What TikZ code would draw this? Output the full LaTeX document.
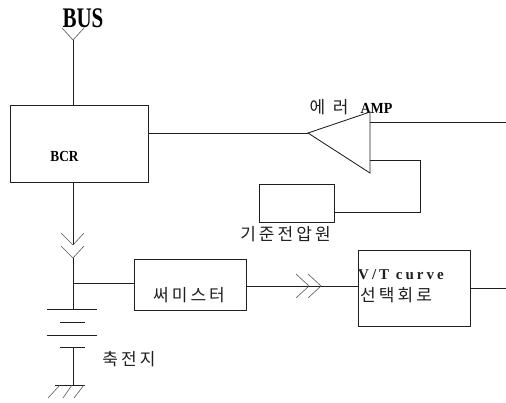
\documentclass[tikz,border=0pt]{standalone}
\usepackage{fontspec}
\setmainfont{Liberation Serif}
\newfontfamily\krfont[LetterSpace=18]{Noto Sans CJK KR}
\newfontfamily\krwide[LetterSpace=45]{Noto Sans CJK KR}
\newfontfamily\vtfont[LetterSpace=20]{Liberation Serif}
\definecolor{ink}{gray}{0.12}
\tikzset{
  wire/.style={draw=ink,line width=0.85pt,line join=miter},
  thin wire/.style={draw=ink!75,line width=0.6pt},
  blockbox/.style={draw=ink,line width=0.85pt,inner sep=0pt,fill=white},
  krlabel/.style={inner sep=0pt,text=ink,font=\krfont\fontsize{17}{17}\selectfont},
  latinlabel/.style={inner sep=0pt,text=black,font=\bfseries\fontsize{14}{14}\selectfont}
}
\begin{document}
\begin{tikzpicture}[x=1pt,y=-1pt]
\useasboundingbox (0,0) rectangle (506,402);
% blocks
\node[blockbox,minimum width=138pt,minimum height=77pt] (bcr) at (79,143.5) {};
\node[blockbox,minimum width=75pt,minimum height=38pt] (ref) at (296.5,203) {};
\node[blockbox,minimum width=112pt,minimum height=51pt] (therm) at (190,284.5) {};
\node[blockbox,minimum width=112pt,minimum height=76pt] (vt) at (414,288) {};
% labels
\node[inner sep=0pt,text=black,font=\fontsize{21}{21}\selectfont] (bus) at (83,18) {\scalebox{1}[1.35]{\textbf{BUS}}};
\node[latinlabel] (bcrl) at (64.5,156) {\scalebox{0.95}[1.1]{BCR}};
\node[latinlabel] (ampl) at (376.5,108.5) {\scalebox{1}[1.1]{AMP}};
\node[inner sep=0pt,text=ink,font=\krwide\fontsize{17}{17}\selectfont] (err) at (329,107) {에러};
\node[krlabel] (refl) at (285.5,234) {기준전압원};
\node[krlabel] (thl) at (189,295) {써미스터};
\node[krlabel] (batl) at (129,359) {축전지};
\node[inner sep=0pt,anchor=west,text=ink,font=\vtfont\bfseries\fontsize{15}{15}\selectfont] (vtl) at (358,275) {V/T curve};
\node[krlabel,anchor=west] (vtk) at (360,295) {선택회로};
% coordinates
\coordinate (busv) at (73,40);
\coordinate (busl) at (62,28);
\coordinate (busr) at (84,28);
\coordinate (ampA) at (308,133);
\coordinate (ampT) at (370,112);
\coordinate (ampB) at (370,173);
\coordinate (ampO) at (370,122);
\coordinate (outE) at (506,122);
\coordinate (ampF) at (370,160);
\coordinate (fb1) at (420,160);
\coordinate (fb2) at (420,212);
\coordinate (jbat) at (73,283);
\coordinate (c1l) at (61,233); \coordinate (c1) at (73,245); \coordinate (c1r) at (84,233);
\coordinate (c2l) at (61,246); \coordinate (c2) at (73,258); \coordinate (c2r) at (84,246);
\coordinate (p1) at (73,309);
\coordinate (p4) at (73,347);
\coordinate (gnd) at (73,385);
\coordinate (d1l) at (296,274); \coordinate (d1) at (309,286); \coordinate (d1r) at (296,298);
\coordinate (d2l) at (308,274); \coordinate (d2) at (321,286); \coordinate (d2r) at (308,298);
\coordinate (vtE) at (506,288);
% top
\draw[thin wire] (busl) -- (busv) -- (busr);
\draw[wire] (busv) -- (bcr.north -| busv);
\draw[wire] (bcr.east |- ampA) -- (ampA);
\draw[wire] (ampT) -- (ampA) -- (ampB) -- cycle;
\draw[wire] (ampO) -- (outE);
\draw[wire] (ampF) -- (fb1) -- (fb2) -- (ref.east |- fb2);
% lower left
\draw[wire] (bcr.south -| c1) -- (c1);
\draw[thin wire] (c1l) -- (c1) -- (c1r);
\draw[thin wire] (c2l) -- (c2) -- (c2r);
\draw[wire] (c2) -- (p1);
\draw[wire] (jbat) -- (therm.west |- jbat);
\draw[wire] (47,309) -- (97,309);
\draw[wire] (60,322) -- (85,322);
\draw[wire] (47,335) -- (97,335);
\draw[wire] (60,347) -- (85,347);
\draw[wire] (p4) -- (gnd);
\draw[wire] (55,385) -- (85,385);
\draw[thin wire] (48,398) -- (60,385);
\draw[thin wire] (63,398) -- (72,385);
\draw[thin wire] (74,398) -- (84,385);
% lower right
\draw[wire] (therm.east |- d2) -- (d2);
\draw[thin wire] (d1l) -- (d1) -- (d1r);
\draw[thin wire] (d2l) -- (d2) -- (d2r);
\draw[wire] (d2) -- (vt.west |- d2);
\draw[wire] (vt.east |- vtE) -- (vtE);
\end{tikzpicture}
\end{document}
